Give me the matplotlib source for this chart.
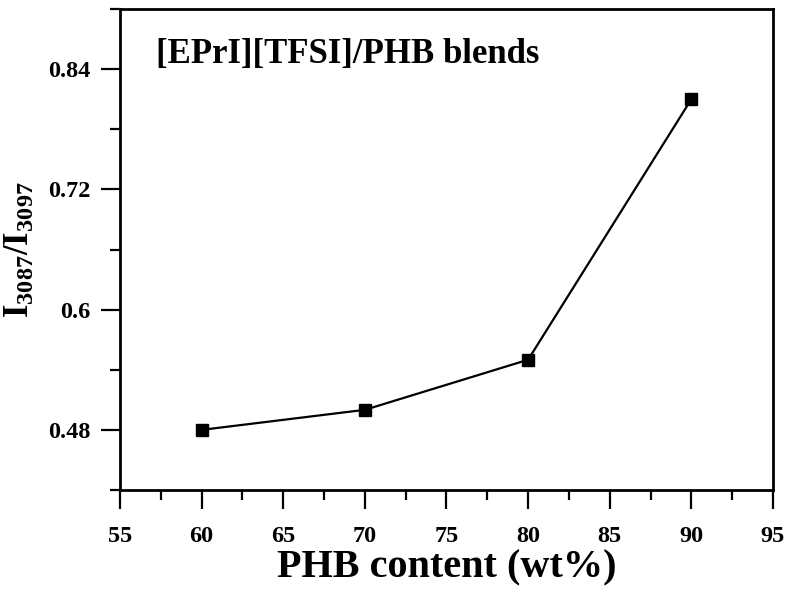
import matplotlib
matplotlib.use("Agg")
import matplotlib.pyplot as plt
from matplotlib.ticker import MultipleLocator

plt.rcParams["font.family"] = "Liberation Serif"
plt.rcParams["font.weight"] = "bold"
plt.rcParams["mathtext.fontset"] = "custom"
plt.rcParams["mathtext.rm"] = "Liberation Serif:bold"
plt.rcParams["mathtext.bf"] = "Liberation Serif:bold"
plt.rcParams["mathtext.it"] = "Liberation Serif:bold"

# data
phb_content = [60, 70, 80, 90]
intensity_ratio = [0.480, 0.500, 0.550, 0.810]

fig = plt.figure(figsize=(7.92, 6.01), dpi=100)
ax = fig.add_axes([0.1515, 0.1847, 0.8245, 0.8003])

ax.plot(phb_content, intensity_ratio, color="black", lw=1.6,
        marker="s", markersize=8.5)

ax.set_xlim(55, 95)
ax.set_ylim(0.42, 0.90)
ax.xaxis.set_major_locator(MultipleLocator(5))
ax.xaxis.set_minor_locator(MultipleLocator(2.5))
ax.set_yticks([0.48, 0.6, 0.72, 0.84])
ax.set_yticklabels(["0.48", "0.6", "0.72", "0.84"])
ax.yaxis.set_minor_locator(MultipleLocator(0.06))

for s in ax.spines.values():
    s.set_linewidth(2)
ax.tick_params(which="major", direction="out", length=14, width=1.6,
               labelsize=17.5)
ax.tick_params(which="minor", direction="out", length=7, width=1.6)
ax.tick_params(axis="x", which="major", pad=12)
ax.tick_params(axis="y", which="major", pad=7)

ax.set_xlabel("PHB content (wt%)", fontsize=29, fontweight="bold", labelpad=2)
ax.set_ylabel(r"$\mathrm{I_{3087}/I_{3097}}$", fontsize=25, labelpad=8)

ax.text(0.055, 0.905, "[EPrI][TFSI]/PHB blends", transform=ax.transAxes,
        fontsize=25, fontweight="bold", va="center")

fig.savefig("out.png", dpi=100)
